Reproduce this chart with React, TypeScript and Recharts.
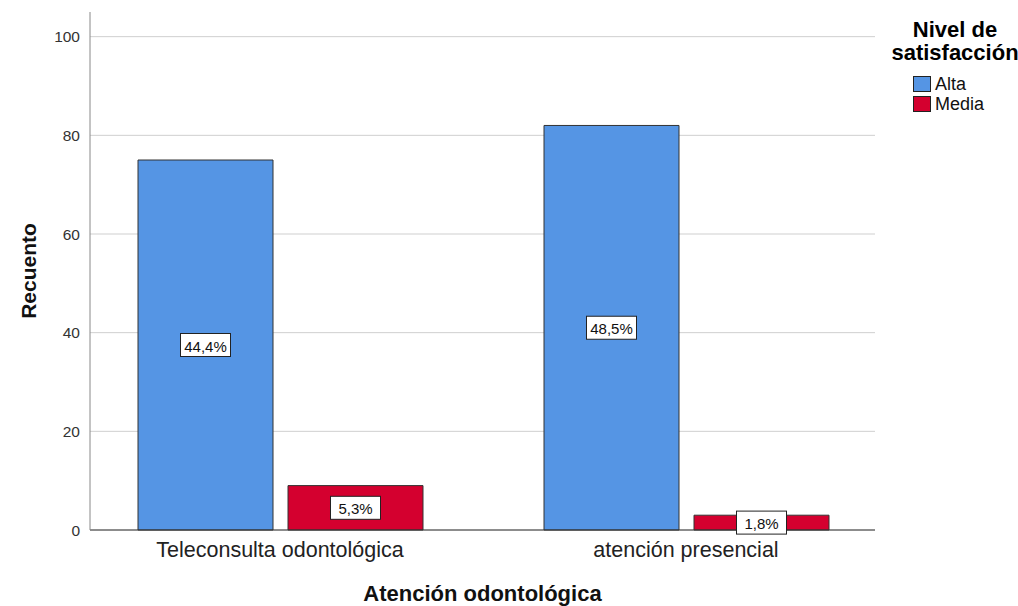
import { BarChart, Bar, XAxis, YAxis, CartesianGrid, LabelList } from "recharts";

// Recuento por tipo de atención y nivel de satisfacción
const categorias = ["Teleconsulta odontológica", "atención presencial"];
const alta = [75, 82];
const media = [9, 3];
const yTicks = [0, 20, 40, 60, 80, 100];
const series = [
  { key: "alta", name: "Alta", color: "#5595E4" },
  { key: "media", name: "Media", color: "#D4002F" },
];

const FONT = "'Liberation Sans', Arial, sans-serif";

const total = [...alta, ...media].reduce((s, v) => s + v, 0);

const data = categorias.map((c, i) => ({ cat: c, alta: alta[i], media: media[i] }));

const pct = (v: number) => `${((v / total) * 100).toFixed(1).replace(".", ",")}%`;

function PctLabel(props: any) {
  const { x, y, width, height, value } = props;
  const cx = x + width / 2;
  const cy = y + height / 2;
  const w = 50;
  const h = 23;
  return (
    <g>
      <rect x={cx - w / 2} y={cy - h / 2} width={w} height={h} fill="#fff" stroke="#222" strokeWidth={1} />
      <text x={cx} y={cy + 1} textAnchor="middle" dominantBaseline="central" fontSize={15} fill="#111" fontFamily={FONT}>
        {pct(value)}
      </text>
    </g>
  );
}

function LegendBox() {
  return (
    <div style={{ fontFamily: FONT, position: "absolute", left: 875, top: 0, width: 160, height: 120 }}>
      <div
        style={{
          position: "absolute",
          top: 18,
          fontWeight: "bold",
          fontSize: 22,
          lineHeight: "23px",
          textAlign: "center",
          width: 160,
          whiteSpace: "nowrap",
        }}
      >
        Nivel de
        <br />
        satisfacción
      </div>
      <div style={{ position: "absolute", left: 38, top: 74 }}>
        {series.map((s) => (
          <div key={s.key} style={{ display: "flex", alignItems: "center", height: 20 }}>
            <span
              style={{
                display: "inline-block",
                width: 16,
                height: 14,
                background: s.color,
                border: "1px solid #222",
                marginRight: 4,
              }}
            />
            <span style={{ fontSize: 18, color: "#111" }}>{s.name}</span>
          </div>
        ))}
      </div>
    </div>
  );
}

export default function App() {
  return (
    <div style={{ width: 1018, height: 606, overflow: "hidden", position: "fixed", left: 0, top: 0, background: "#fff" }}>
      <BarChart
        width={1018}
        height={606}
        data={data}
        margin={{ top: 12, right: 143, bottom: 0, left: 0 }}
        barSize={135}
        barGap={15}
        style={{ fontFamily: FONT }}
      >
        <CartesianGrid vertical={false} stroke="#cfcfcf" horizontalValues={yTicks} />
        <XAxis
          dataKey="cat"
          height={76}
          padding={{ left: -13, right: -14 }}
          tickLine={false}
          tickSize={0}
          tickMargin={12}
          stroke="#333"
          tick={{ fontSize: 21.5, fill: "#222", fontFamily: FONT }}
          label={{
            value: "Atención odontológica",
            position: "insideBottom",
            offset: 5,
            style: { fontSize: 22, fontWeight: "bold", fill: "#111", fontFamily: FONT },
          }}
        />
        <YAxis
          width={90}
          domain={[0, 105]}
          ticks={yTicks}
          tickLine={false}
          tickSize={0}
          tickMargin={10}
          stroke="#888"
          tick={{ fontSize: 15.5, fill: "#333", fontFamily: FONT }}
          label={(p: any) => {
            const vb = p.viewBox;
            const cx = vb.x + 28;
            const cy = vb.y + vb.height / 2;
            return (
              <text
                x={cx}
                y={cy}
                transform={`rotate(-90, ${cx}, ${cy})`}
                textAnchor="middle"
                dominantBaseline="central"
                fontSize={21}
                fontWeight="bold"
                fill="#111"
                fontFamily={FONT}
              >
                Recuento
              </text>
            );
          }}
        />
        {series.map((s) => (
          <Bar key={s.key} dataKey={s.key} name={s.name} fill={s.color} stroke="#333" strokeWidth={1} isAnimationActive={false}>
            <LabelList dataKey={s.key} content={<PctLabel />} />
          </Bar>
        ))}
      </BarChart>
      <LegendBox />
    </div>
  );
}
